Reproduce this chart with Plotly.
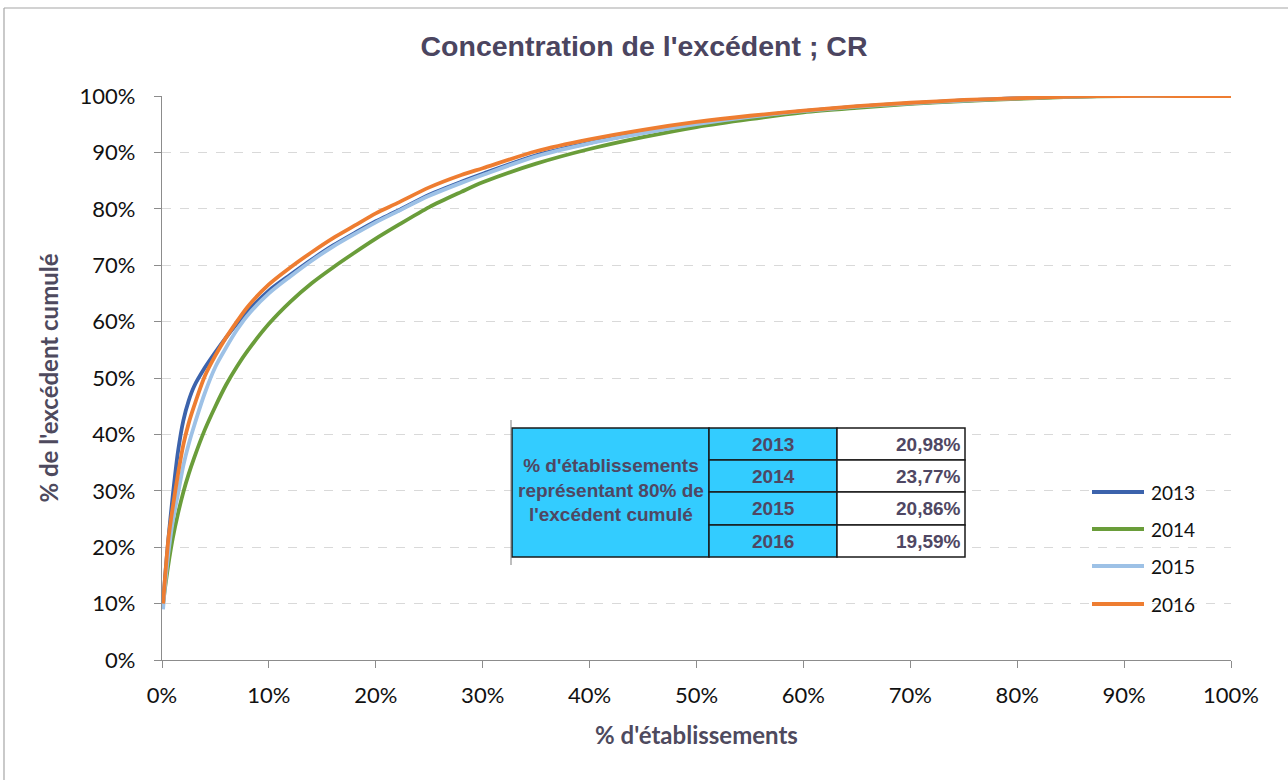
import plotly.graph_objects as go

# ---------------- data ----------------
x_pct = [0.1, 0.3, 0.6, 1, 1.5, 2, 2.5, 3, 4, 5, 6, 7, 8, 10, 12, 14, 16, 18, 20, 22, 25,
         28, 30, 35, 40, 45, 50, 55, 60, 65, 70, 75, 80, 85, 90, 95, 100]

y_2013 = [10, 15, 21.5, 29, 37, 42.5, 46, 48.5, 51.8, 54.6, 57.2, 59.6, 61.8, 65.5, 68.3, 71, 73.5, 75.7, 77.8, 79.6, 82.5,
          84.8, 86.2, 89.5, 91.7, 93.5, 95.1, 96.3, 97.3, 98.1, 98.7, 99.2, 99.6, 99.9, 100, 100, 100]
y_2014 = [10, 13, 17, 21.5, 26, 29.8, 33, 35.8, 40.8, 45, 48.8, 52, 54.8, 59.6, 63.5, 66.8, 69.6, 72.2, 74.7, 77, 80.3,
          83, 84.7, 88, 90.6, 92.7, 94.5, 95.9, 97.1, 97.9, 98.6, 99.1, 99.5, 99.85, 100, 100, 100]
y_2015 = [9, 13.5, 19, 24.5, 29.5, 34.5, 38.3, 41.5, 47.3, 52, 55.4, 58.5, 61.1, 65, 68, 70.8, 73.3, 75.5, 77.6, 79.5, 82.3,
          84.6, 86, 89.3, 91.6, 93.4, 95, 96.3, 97.3, 98.1, 98.7, 99.2, 99.6, 99.9, 100, 100, 100]
y_2016 = [10, 15, 21.5, 27, 33, 38.2, 42, 45, 50.3, 54, 57.2, 60, 62.6, 66.6, 69.6, 72.3, 74.8, 77, 79.2, 81, 83.8,
          86, 87.2, 90.2, 92.3, 94, 95.4, 96.5, 97.4, 98.2, 98.8, 99.3, 99.6, 99.9, 100, 100, 100]

series_names = ["2013", "2014", "2015", "2016"]
series_values = [y_2013, y_2014, y_2015, y_2016]
series_colors = ["#3C63AC", "#6A9D3A", "#9DC1E6", "#EE7D31"]

tick_vals = [0, 10, 20, 30, 40, 50, 60, 70, 80, 90, 100]
tick_text = [f"{v}%" for v in tick_vals]

table_label = "% d'établissements<br>représentant 80% de<br>l'excédent cumulé"
table_years = ["2013", "2014", "2015", "2016"]
table_values = ["20,98%", "23,77%", "20,86%", "19,59%"]

title_text = "Concentration de l'excédent ; CR"
x_title = "% d'établissements"
y_title = "% de l'excédent cumulé"

# ---------------- figure ----------------
W, H = 1288, 780
L, R, T, B = 162, 57, 96, 120
PW, PH = W - L - R, H - T - B


def px(x):
    return (x - L) / PW


def py(y):
    return (H - B - y) / PH


fig = go.Figure()
for name, vals, col in zip(series_names, series_values, series_colors):
    fig.add_trace(go.Scatter(
        x=x_pct, y=vals, name=name, mode="lines", showlegend=False,
        line=dict(color=col, width=3.8, shape="spline", smoothing=0.8),
    ))

shapes = []
annotations = []

# outer chart border (left & top edges)
shapes.append(dict(type="line", xref="paper", yref="paper", x0=px(4), x1=px(4), y0=py(8), y1=py(800),
                   line=dict(color="#A6A6A6", width=1.2)))
shapes.append(dict(type="line", xref="paper", yref="paper", x0=px(4), x1=px(1300), y0=py(8), y1=py(8),
                   line=dict(color="#A6A6A6", width=1.2)))

# legend (drawn manually to match the long sample lines)
leg_y = [492, 529, 566, 604]
for name, col, yy in zip(series_names, series_colors, leg_y):
    shapes.append(dict(type="line", xref="paper", yref="paper", x0=px(1092), x1=px(1144),
                       y0=py(yy), y1=py(yy), line=dict(color=col, width=3.8)))
    annotations.append(dict(xref="paper", yref="paper", x=px(1149), y=py(yy), text=name, showarrow=False,
                            xanchor="left", yanchor="middle",
                            font=dict(family="Lato, Open Sans", size=19, color="#111111")))

# table
col_x = [512, 709, 837, 965]
row_y = [428, 460, 492, 525, 557]
cyan = "#33CCFF"
tfont = dict(family="Liberation Sans, Arial", size=19, color="#4F4763")
shapes.append(dict(type="rect", xref="paper", yref="paper", x0=px(col_x[0]), x1=px(col_x[1]),
                   y0=py(row_y[0]), y1=py(row_y[4]), fillcolor=cyan, line=dict(color="#1A1A1A", width=1.5)))
for i in range(4):
    shapes.append(dict(type="rect", xref="paper", yref="paper", x0=px(col_x[1]), x1=px(col_x[2]),
                       y0=py(row_y[i]), y1=py(row_y[i + 1]), fillcolor=cyan,
                       line=dict(color="#1A1A1A", width=1.5)))
    shapes.append(dict(type="rect", xref="paper", yref="paper", x0=px(col_x[2]), x1=px(col_x[3]),
                       y0=py(row_y[i]), y1=py(row_y[i + 1]), fillcolor="white",
                       line=dict(color="#1A1A1A", width=1.5)))
    yc = py((row_y[i] + row_y[i + 1]) / 2)
    annotations.append(dict(xref="paper", yref="paper", x=px((col_x[1] + col_x[2]) / 2), y=yc,
                            text=f"<b>{table_years[i]}</b>", showarrow=False, xanchor="center",
                            yanchor="middle", font=tfont))
    annotations.append(dict(xref="paper", yref="paper", x=px(col_x[3] - 2), y=yc,
                            text=f"<b>{table_values[i]}</b>", showarrow=False, xanchor="right",
                            yanchor="middle", font=tfont))
annotations.append(dict(xref="paper", yref="paper", x=px((col_x[0] + col_x[1]) / 2), y=py(490),
                        text=f"<b>{table_label}</b>", showarrow=False, xanchor="center", yanchor="middle",
                        align="center", font=tfont))
shapes.append(dict(type="line", xref="paper", yref="paper", x0=px(511), x1=px(511), y0=py(420), y1=py(565),
                   line=dict(color="#7F7F7F", width=1)))

fig.update_layout(
    width=W, height=H,
    margin=dict(l=L, r=R, t=T, b=B, pad=0),
    paper_bgcolor="white", plot_bgcolor="white",
    title=dict(text=f"<b>{title_text}</b>", x=0.5, xref="container", xanchor="center",
               y=1 - 46 / H, yref="container", yanchor="middle",
               font=dict(family="Liberation Sans, Arial", size=28.5, color="#4B4560")),
    xaxis=dict(range=[0, 100], tickvals=tick_vals, ticktext=tick_text, showgrid=False, zeroline=False,
               showline=True, linecolor="#8C8C8C", linewidth=1.2, ticks="outside", ticklen=7,
               tickcolor="#8C8C8C", tickfont=dict(family="Lato, Open Sans", size=22, color="#111111"),
               ticklabelstandoff=8,
               title=dict(text=f"<b>{x_title}</b>", standoff=20,
                          font=dict(family="Lato, Open Sans", size=24, color="#4E4A5E"))),
    yaxis=dict(range=[0, 100], tickvals=tick_vals, ticktext=tick_text, showgrid=True,
               gridcolor="#D9D9D9", griddash="dash", gridwidth=1, zeroline=False,
               showline=True, linecolor="#8C8C8C", linewidth=1.2, ticks="outside", ticklen=7,
               tickcolor="#8C8C8C", tickfont=dict(family="Lato, Open Sans", size=22, color="#111111"),
               ticklabelstandoff=14,
               title=dict(text=f"<b>{y_title}</b>", standoff=14,
                          font=dict(family="Lato, Open Sans", size=24, color="#4E4A5E"))),
    shapes=shapes, annotations=annotations,
    showlegend=False,
)

fig.write_html("out.html", config={"displayModeBar": False},
               post_script="document.body.style.margin='0';")
